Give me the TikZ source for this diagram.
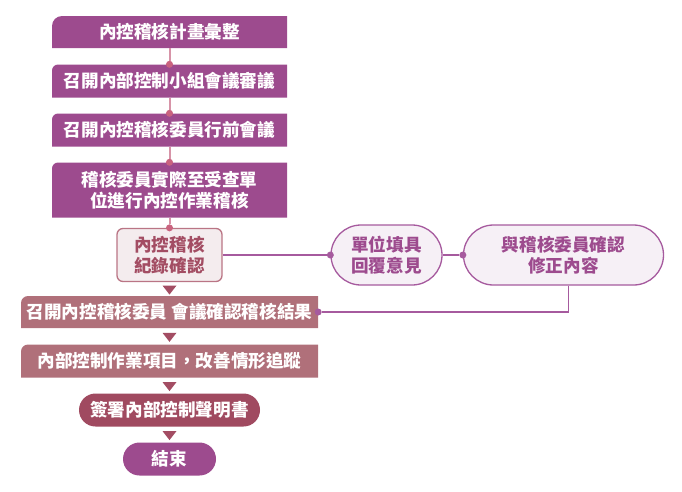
\documentclass[tikz,border=0pt]{standalone}
\usepackage{fontspec}
\setmainfont{Noto Sans CJK TC}
\usetikzlibrary{shapes.geometric, arrows.meta}
\definecolor{planpurple}{HTML}{9D4B8E}
\definecolor{meetrose}{HTML}{B0707A}
\definecolor{signrose}{HTML}{A04A60}
\definecolor{markrose}{HTML}{A34D63}
\definecolor{recedge}{HTML}{BA7585}
\definecolor{recfill}{HTML}{F4ECEE}
\definecolor{ovaledge}{HTML}{A65A9E}
\definecolor{ovalfill}{HTML}{F6F0F6}
\definecolor{stempink}{HTML}{D794A8}
\definecolor{dotpink}{HTML}{C9637F}
\tikzstyle{box} = [rectangle, inner sep=0pt, text=white, align=center, font=\bfseries\fontsize{17.6pt}{21pt}\selectfont]
\tikzset{tab/.style 2 args={box, fill=white, path picture={\fill[#1] (path picture bounding box.south west) -- ([yshift=-#2]path picture bounding box.north west) arc[start angle=180, end angle=90, radius=#2] -- (path picture bounding box.north east) -- (path picture bounding box.south east) -- cycle;}}}
\tikzstyle{record} = [rectangle, rounded corners=6pt, draw=recedge, line width=1.3pt, fill=recfill, text=markrose, inner sep=0pt, align=center, minimum width=105pt, minimum height=53pt, font=\bfseries\fontsize{17.6pt}{21pt}\selectfont]
\tikzstyle{oval} = [rectangle, rounded corners=30pt, draw=ovaledge, line width=1.3pt, fill=ovalfill, text=planpurple, inner sep=0pt, align=center, minimum height=60pt, font=\bfseries\fontsize{17.6pt}{21pt}\selectfont]
\tikzstyle{pill} = [box, rounded corners=16.5pt, minimum height=33pt]
\tikzstyle{marker} = [isosceles triangle, shape border rotate=270, isosceles triangle stretches, minimum width=14pt, minimum height=9pt, inner sep=0pt, fill=markrose]
\tikzstyle{stem} = [draw=stempink, line width=2pt, -{Circle[length=7pt, line width=0pt, color=dotpink]}, shorten >=-3.5pt]
\tikzstyle{reply} = [draw=ovaledge, line width=1.5pt, -{Circle[length=7pt, line width=0pt]}, shorten >=-3.5pt]

\begin{document}
\begin{tikzpicture}[node distance=49pt]
\useasboundingbox (0,0) rectangle (682pt,-491pt);

                \node (plan) [tab={planpurple}{10pt}, minimum width=235pt, minimum height=32pt] at (169.5pt,-32pt) {內控稽核計畫彙整};
                \node (group) [tab={planpurple}{6pt}, minimum width=235pt, minimum height=33pt, below of = plan] {召開內部控制小組會議審議};
                \node (premeet) [tab={planpurple}{6pt}, minimum width=235pt, minimum height=33pt, below of = group] {召開內控稽核委員行前會議};
                \node (audit) [tab={planpurple}{6pt}, minimum width=235pt, minimum height=55pt, below of = premeet, yshift=-11pt] {稽核委員實際至受查單\\位進行內控作業稽核};
                \node (record) [record, below of = audit, yshift=-16pt] {內控稽核\\紀錄確認};

% ---------------------------------------------
% Right side (reply loop)
% ---------------------------------------------
                \node (reply) [oval, minimum width=111pt, right of = record, xshift=168pt] {單位填具\\回覆意見};
                \node (revise) [oval, minimum width=200pt, right of = reply, xshift=128pt] {與稽核委員確認\\修正內容};

% ---------------------------------------------
% Lower column
% ---------------------------------------------
                \node (result) [tab={meetrose}{7pt}, minimum width=297pt, minimum height=32pt, below of = record, yshift=-8pt] {召開內控稽核委員 會議確認稽核結果};
                \node (follow) [tab={meetrose}{7pt}, minimum width=297pt, minimum height=33pt, below of = result] {內部控制作業項目，改善情形追蹤};
                \node (declare) [pill, fill=signrose, minimum width=181pt, below of = follow] {簽署內部控制聲明書};
                \node (finish) [pill, fill=planpurple, minimum width=93pt, below of = declare] {結束};

% ---------------------------------------------
% Connectors
% ---------------------------------------------
                \draw [stem] (plan) -- (group);
                \draw [stem] (group) -- (premeet);
                \draw [stem] (premeet) -- (audit);
                \draw [stem] (audit) -- (record);

                \draw [reply] (record) -- (reply);
                \draw [reply] (reply) -- (revise);
                \draw [reply] ([xshift=5pt]revise.south) |- (result.east);

                \path (record) -- node [marker] {} (result);
                \path (result) -- node [marker] {} (follow);
                \path (follow) -- node [marker] {} (declare);
                \path (declare) -- node [marker] {} (finish);

\end{tikzpicture}
\end{document}
